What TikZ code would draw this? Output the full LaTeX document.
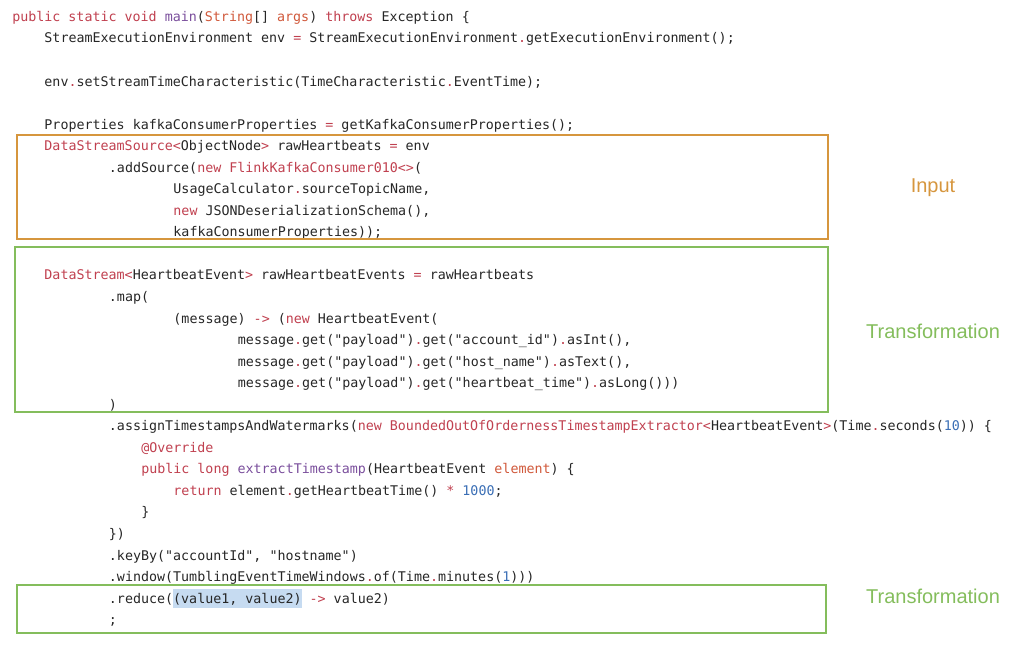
\documentclass[tikz,border=0pt]{standalone}
\usepackage{fontspec}
\setmainfont{Liberation Sans}
\setmonofont{DejaVu Sans Mono}
\usepackage{tikz}
\definecolor{kwred}{HTML}{C0404F}
\definecolor{tyred}{HTML}{D0583A}
\definecolor{fnpurple}{HTML}{7A4E9C}
\definecolor{numblue}{HTML}{3A6EB5}
\definecolor{codegray}{HTML}{262626}
\definecolor{inputorange}{HTML}{D6963E}
\definecolor{transgreen}{HTML}{84BD5C}
\definecolor{hilite}{HTML}{C6DBF1}
\newcommand{\kw}[1]{\textcolor{kwred}{#1}}
\newcommand{\ty}[1]{\textcolor{tyred}{#1}}
\newcommand{\fn}[1]{\textcolor{fnpurple}{#1}}
\newcommand{\nm}[1]{\textcolor{numblue}{#1}}
\tikzset{code/.style={anchor=base west,inner sep=0pt,text=codegray,font=\ttfamily\fontsize{10}{12}\selectfont},
         stage/.style={inner sep=0pt,font=\fontsize{15}{18}\selectfont},
         stagebox/.style={line width=2.2pt}}

\begin{document}
\begin{tikzpicture}[x=0.75pt, y=-0.75pt]
    \useasboundingbox (0, 0) rectangle (1024, 648);

    % highlighted selection
    \fill [hilite] (173.2, 589) rectangle (302.2, 608);

    \node [code] (l1) at (12, 21.5) {\kw{public static void} \fn{main}(\ty{String}[] \ty{args}) \kw{throws} Exception \{};
    \node [code] (l2) at (44.2, 43.0) {StreamExecutionEnvironment env \kw{=} StreamExecutionEnvironment\kw{.}getExecutionEnvironment();};
    \node [code] (l4) at (44.2, 86.1) {env\kw{.}setStreamTimeCharacteristic(TimeCharacteristic\kw{.}EventTime);};
    \node [code] (l6) at (44.2, 129.2) {Properties kafkaConsumerProperties \kw{=} getKafkaConsumerProperties();};
    \node [code] (l7) at (44.2, 150.7) {\kw{DataStreamSource<}ObjectNode\kw{>} rawHeartbeats \kw{=} env};
    \node [code] (l8) at (108.7, 172.3) {.addSource(\kw{new FlinkKafkaConsumer010<>}(};
    \node [code] (l9) at (173.2, 193.8) {UsageCalculator\kw{.}sourceTopicName,};
    \node [code] (l10) at (173.2, 215.4) {\kw{new} JSONDeserializationSchema(),};
    \node [code] (l11) at (173.2, 236.9) {kafkaConsumerProperties));};

    \node [code] (l13) at (44.2, 280.0) {\kw{DataStream<}HeartbeatEvent\kw{>} rawHeartbeatEvents \kw{=} rawHeartbeats};
    \node [code] (l14) at (108.7, 301.5) {.map(};
    \node [code] (l15) at (173.2, 323.1) {(message) \kw{->} (\kw{new} HeartbeatEvent(};
    \node [code] (l16) at (237.7, 344.6) {message\kw{.}get("payload")\kw{.}get("account\_id")\kw{.}asInt(),};
    \node [code] (l17) at (237.7, 366.1) {message\kw{.}get("payload")\kw{.}get("host\_name")\kw{.}asText(),};
    \node [code] (l18) at (237.7, 387.7) {message\kw{.}get("payload")\kw{.}get("heartbeat\_time")\kw{.}asLong()))};
    \node [code] (l19) at (108.7, 409.2) {)};
    \node [code] (l20) at (108.7, 430.8) {.assignTimestampsAndWatermarks(\kw{new BoundedOutOfOrdernessTimestampExtractor<}HeartbeatEvent\kw{>}(Time\kw{.}seconds(\nm{10})) \{};
    \node [code] (l21) at (141.0, 452.3) {\kw{@Override}};
    \node [code] (l22) at (141.0, 473.9) {\kw{public long} \fn{extractTimestamp}(HeartbeatEvent \ty{element}) \{};
    \node [code] (l23) at (173.2, 495.4) {\kw{return} element\kw{.}getHeartbeatTime() \kw{*} \nm{1000};};
    \node [code] (l24) at (141.0, 516.9) {\}};
    \node [code] (l25) at (108.7, 538.5) {\})};
    \node [code] (l26) at (108.7, 560.0) {.keyBy("accountId", "hostname")};
    \node [code] (l27) at (108.7, 581.6) {.window(TumblingEventTimeWindows\kw{.}of(Time\kw{.}minutes(\nm{1})))};
    \node [code] (l28) at (108.7, 603.1) {.reduce((value1, value2) \kw{->} value2)};
    \node [code] (l29) at (108.7, 624.7) {;};

    % stage boxes
    \draw [stagebox, inputorange] (17, 135) rectangle (828, 239);
    \draw [stagebox, transgreen] (15, 247) rectangle (828, 412);
    \draw [stagebox, transgreen] (17, 585) rectangle (826, 633);

    \node [stage, text=inputorange] (input) at (933, 188) {Input};
    \node [stage, text=transgreen] (trans1) at (933, 331) {Transformation};
    \node [stage, text=transgreen] (trans2) at (933, 596) {Transformation};
\end{tikzpicture}
\end{document}
